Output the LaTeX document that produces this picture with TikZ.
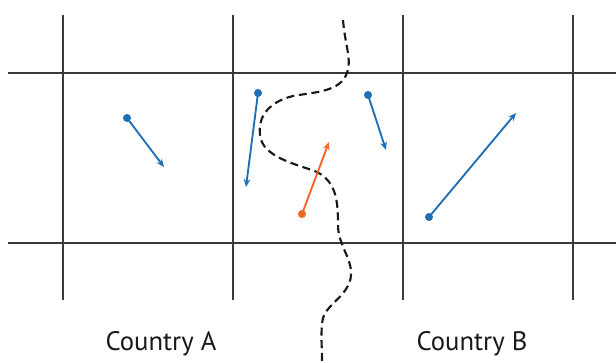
\documentclass[tikz,border=0pt]{standalone}
\usepackage{fontspec}
\setsansfont{PT Sans}
\usetikzlibrary{arrows.meta}
\definecolor{vblue}{HTML}{1F6FB8}
\definecolor{vorange}{HTML}{F26522}
\definecolor{gridc}{HTML}{3A3A3A}
\tikzset{
  gridline/.style={draw=gridc, line width=0.9pt},
  border/.style={draw=black!90, line width=1.6pt, dash pattern=on 6pt off 3.5pt},
  vec/.style={line width=1.4pt, -{Stealth[length=6pt,width=5pt]}},
  dotc/.style={circle, inner sep=0pt, minimum size=6pt},
  lab/.style={font=\sffamily\fontsize{20}{24}\selectfont, text=black!90}
}
\begin{document}
\begin{tikzpicture}[x=0.75pt,y=-0.75pt]
\useasboundingbox (0,0) rectangle (616,363);
% grid
\foreach \x in {63,233,403,573} \draw[gridline] (\x,15) -- (\x,300);
\foreach \y in {73,243} \draw[gridline] (8,\y) -- (616,\y);
% border
\draw[border] (343,20) .. controls (345,45) and (352,60) .. (347,73)
  .. controls (340,92) and (315,92) .. (293,96)
  .. controls (265,103) and (258,120) .. (260,135)
  .. controls (262,158) and (300,165) .. (317,172)
  .. controls (336,182) and (338,200) .. (338,225)
  .. controls (338,245) and (352,258) .. (351,275)
  .. controls (350,293) and (330,303) .. (324,315)
  .. controls (320,325) and (322,345) .. (322,362);
% vectors
\node[dotc, fill=vblue] (a1) at (127,118) {};
\coordinate (a2) at (164,167);
\draw[vec, vblue] (a1.center) -- (a2);
\node[dotc, fill=vblue] (b1) at (258,93) {};
\coordinate (b2) at (246,187);
\draw[vec, vblue] (b1.center) -- (b2);
\node[dotc, fill=vblue] (c1) at (368,95) {};
\coordinate (c2) at (386,150);
\draw[vec, vblue] (c1.center) -- (c2);
\node[dotc, fill=vorange] (d1) at (302,214) {};
\coordinate (d2) at (329,142);
\draw[vec, vorange] (d1.center) -- (d2);
\node[dotc, fill=vblue] (e1) at (429,217) {};
\coordinate (e2) at (516,113);
\draw[vec, vblue] (e1.center) -- (e2);
% labels
\node[lab] (la) at (161,344) {Country A};
\node[lab] (lb) at (472,344) {Country B};
\end{tikzpicture}
\end{document}
